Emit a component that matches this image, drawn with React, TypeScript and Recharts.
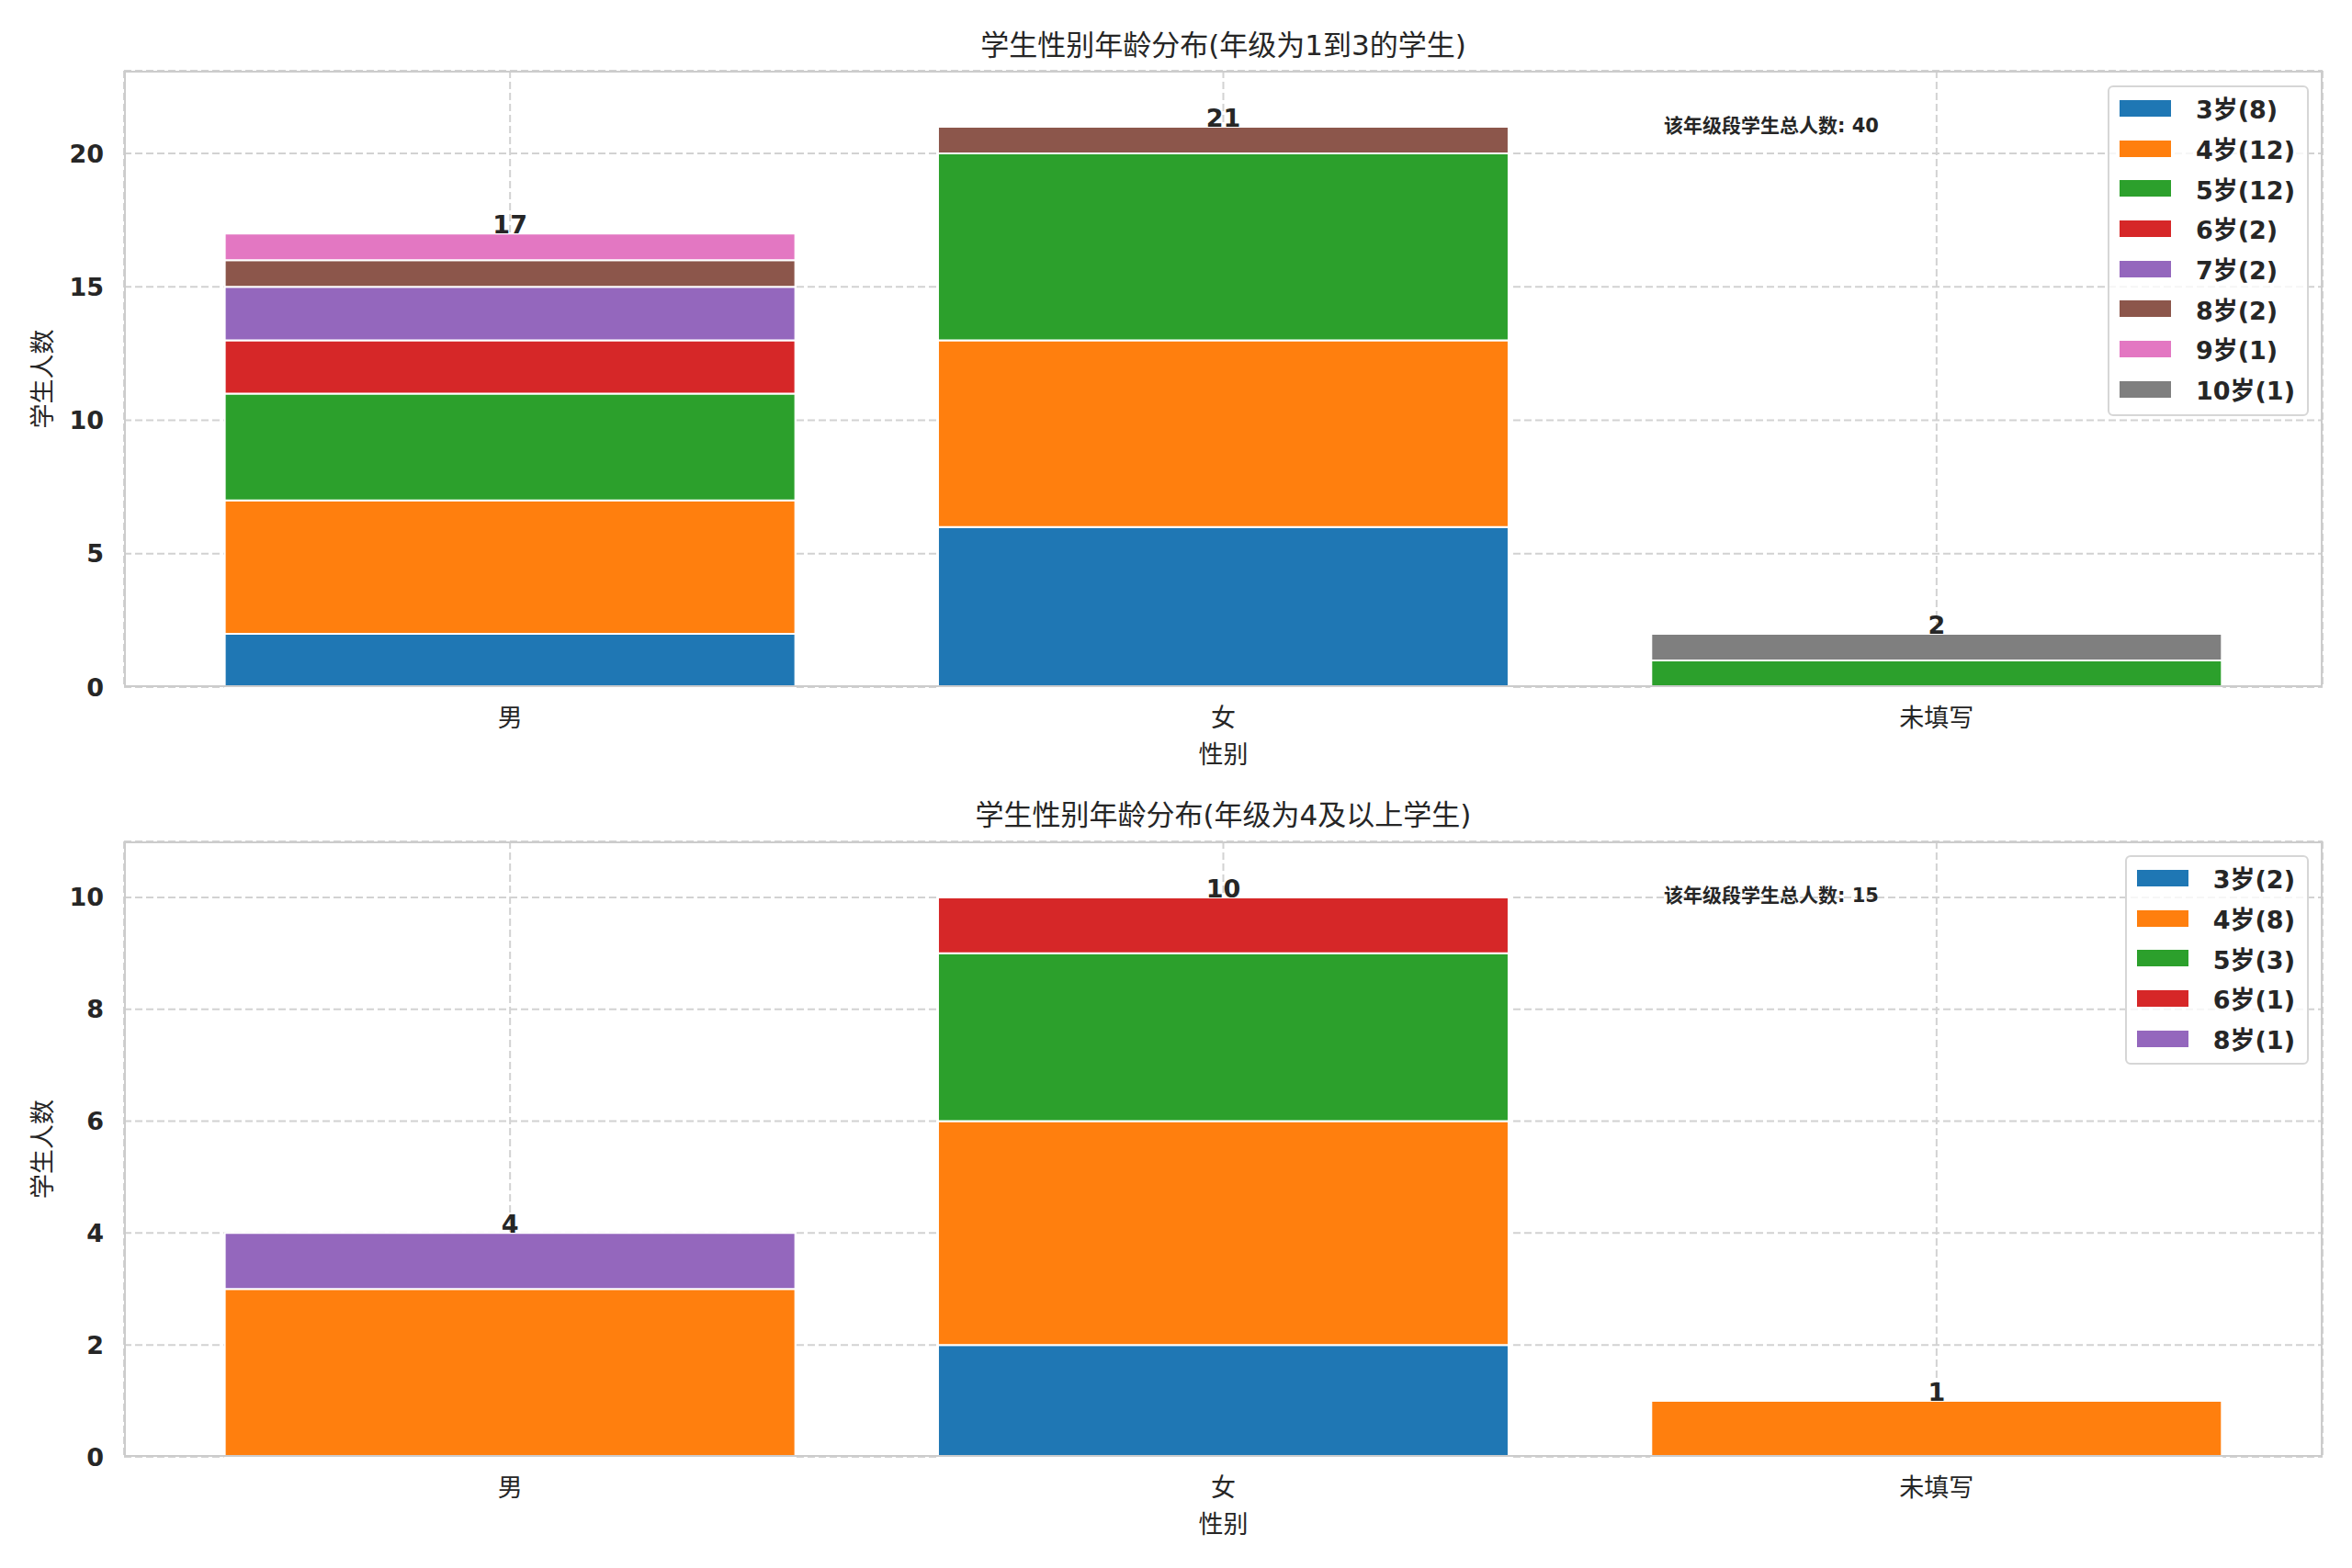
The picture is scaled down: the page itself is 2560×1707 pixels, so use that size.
import { BarChart, Bar, XAxis, YAxis, CartesianGrid, Legend, LabelList, Label } from 'recharts';

const genders = ['男', '女', '未填写'];

// 年级 1-3
const lowAges = ['3岁', '4岁', '5岁', '6岁', '7岁', '8岁', '9岁', '10岁'];
const low3 = [2, 6, 0];
const low4 = [5, 7, 0];
const low5 = [4, 7, 1];
const low6 = [2, 0, 0];
const low7 = [2, 0, 0];
const low8 = [1, 1, 0];
const low9 = [1, 0, 0];
const low10 = [0, 0, 1];
const lowSeries = [low3, low4, low5, low6, low7, low8, low9, low10];
const lowTicks = [0, 5, 10, 15, 20];

// 年级 4 及以上
const highAges = ['3岁', '4岁', '5岁', '6岁', '8岁'];
const high3 = [0, 2, 0];
const high4 = [3, 4, 1];
const high5 = [0, 3, 0];
const high6 = [0, 1, 0];
const high8 = [1, 0, 0];
const highSeries = [high3, high4, high5, high6, high8];
const highTicks = [0, 2, 4, 6, 8, 10];

const palette = ['#1f77b4', '#ff7f0e', '#2ca02c', '#d62728', '#9467bd', '#8c564b', '#e377c2', '#7f7f7f'];

const FONT = "'DejaVu Sans', 'Noto Sans CJK SC', sans-serif";
const INK = '#262626';
const W = 2560;
const PLOT_L = 135;
const PLOT_R = 2528;

function buildRows(ages: string[], series: number[][]) {
  return genders.map((g, i) => {
    const row: Record<string, any> = { gender: g };
    let total = 0;
    let topIdx = -1;
    ages.forEach((a, k) => {
      row[a] = series[k][i];
      total += series[k][i];
      if (series[k][i] > 0) topIdx = k;
    });
    if (topIdx >= 0) row['lbl_' + ages[topIdx]] = total;
    return row;
  });
}

const renderTotal = (p: any) => {
  if (p.value === null || p.value === undefined) return null;
  const vb = p.viewBox || p;
  return (
    <text x={vb.x + vb.width / 2} y={vb.y} textAnchor="middle" fontSize={27} fontWeight="bold" fill={INK}>
      {p.value}
    </text>
  );
};

function LegendBox({ names }: { names: string[] }) {
  return (
    <div
      style={{
        border: '2px solid #d6d6d6',
        borderRadius: 6,
        background: 'rgba(255,255,255,0.8)',
        padding: '1px 13px 5px 11px',
        fontFamily: FONT,
      }}
    >
      {names.map((n, k) => (
        <div key={n} style={{ display: 'flex', alignItems: 'center', height: 43.7 }}>
          <span style={{ width: 56, height: 18, background: palette[k], display: 'inline-block', marginRight: 27 }} />
          <span style={{ fontSize: 27, fontWeight: 'bold', color: INK, whiteSpace: 'nowrap' }}>{n}</span>
        </div>
      ))}
    </div>
  );
}

interface PanelProps {
  title: string;
  note: string;
  ages: string[];
  series: number[][];
  ticks: number[];
  yMax: number;
  top: number;
  height: number;
  plotTop: number;
  plotBottom: number;
  titleY: number;
  legendTop: number;
  noteY: number;
  xLabelOffset: number;
}

function Panel(p: PanelProps) {
  const rows = buildRows(p.ages, p.series);
  const names = p.ages.map((a, k) => `${a}(${p.series[k].reduce((s, v) => s + v, 0)})`);
  const yLabel = (lp: any) => {
    const vb = lp.viewBox;
    const cy = vb.y + vb.height / 2;
    return (
      <text x={46} y={cy} transform={`rotate(-90 46 ${cy})`} textAnchor="middle" dominantBaseline="central" fontSize={27} fill={INK}>
        学生人数
      </text>
    );
  };
  return (
    <div style={{ position: 'absolute', left: 0, top: p.top, width: W, height: p.height }}>
      <div
        style={{
          position: 'absolute',
          left: PLOT_L,
          width: PLOT_R - PLOT_L,
          top: p.titleY - 20,
          lineHeight: '40px',
          textAlign: 'center',
          fontSize: 31,
          color: INK,
        }}
      >
        {p.title}
      </div>
      <BarChart
        width={W}
        height={p.height}
        data={rows}
        margin={{ top: p.plotTop, right: W - PLOT_R, left: 0, bottom: 0 }}
        barCategoryGap="10%"
      >
        <CartesianGrid stroke="#d2d2d2" strokeWidth={2} strokeDasharray="8 4" />
        <XAxis
          dataKey="gender"
          height={p.height - p.plotBottom}
          padding={{ left: 32, right: 32 }}
          tickLine={false}
          axisLine={false}
          tickSize={0}
          tickMargin={24}
          interval={0}
          tick={{ fontSize: 27, fill: INK }}
        >
          <Label value="性别" position="insideBottom" offset={p.xLabelOffset} fontSize={27} fill={INK} />
        </XAxis>
        <YAxis
          type="number"
          width={PLOT_L}
          domain={[0, p.yMax]}
          ticks={p.ticks}
          interval={0}
          tickLine={false}
          axisLine={false}
          tickSize={0}
          tickMargin={22}
          tick={{ fontSize: 27, fontWeight: 'bold', fill: INK }}
          label={{ content: yLabel }}
        />
        <Legend
          layout="vertical"
          align="center"
          verticalAlign="middle"
          wrapperStyle={{ left: 'auto', right: 47, top: p.legendTop, width: 'auto' }}
          content={() => <LegendBox names={names} />}
        />
        {p.ages.map((a, k) => (
          <Bar
            key={a}
            dataKey={a}
            name={names[k]}
            stackId="s"
            fill={palette[k]}
            stroke="#ffffff"
            strokeWidth={2}
            isAnimationActive={false}
          >
            <LabelList dataKey={'lbl_' + a} content={renderTotal} />
          </Bar>
        ))}
      </BarChart>
      <div
        style={{
          position: 'absolute',
          left: PLOT_L,
          top: p.plotTop,
          width: PLOT_R - PLOT_L,
          height: p.plotBottom - p.plotTop,
          border: '2px solid #cccccc',
          boxSizing: 'border-box',
          pointerEvents: 'none',
        }}
      />
      <div
        style={{
          position: 'absolute',
          left: 1811,
          top: p.noteY - 13,
          lineHeight: '26px',
          fontSize: 21,
          fontWeight: 'bold',
          color: INK,
          whiteSpace: 'nowrap',
        }}
      >
        {p.note}
      </div>
    </div>
  );
}

export default function App() {
  return (
    <div style={{ position: 'absolute', left: 0, top: 0, width: W, height: 1707, background: '#fff', fontFamily: FONT }}>
      <Panel
        title="学生性别年龄分布(年级为1到3的学生)"
        note="该年级段学生总人数: 40"
        ages={lowAges}
        series={lowSeries}
        ticks={lowTicks}
        yMax={23.1}
        top={0}
        height={853}
        plotTop={77}
        plotBottom={748}
        titleY={49}
        legendTop={93}
        noteY={137}
        xLabelOffset={22}
      />
      <Panel
        title="学生性别年龄分布(年级为4及以上学生)"
        note="该年级段学生总人数: 15"
        ages={highAges}
        series={highSeries}
        ticks={highTicks}
        yMax={11}
        top={853}
        height={854}
        plotTop={63}
        plotBottom={733}
        titleY={34}
        legendTop={78}
        noteY={122}
        xLabelOffset={38}
      />
    </div>
  );
}
